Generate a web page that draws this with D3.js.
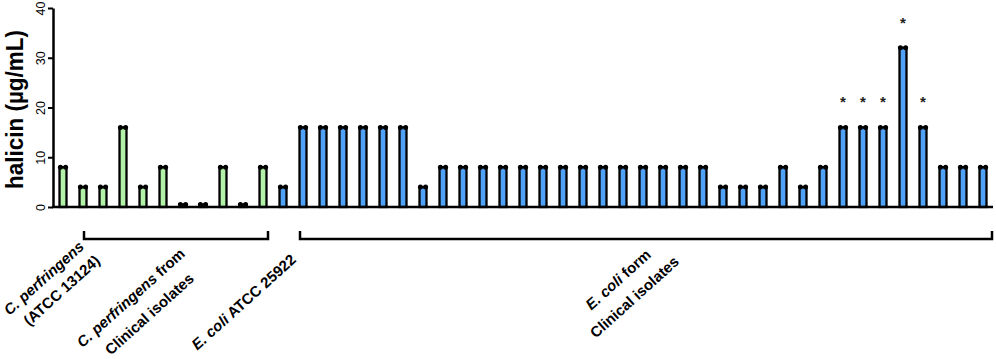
<!DOCTYPE html>
<html>
<head>
<meta charset="utf-8">
<script src="https://cdn.jsdelivr.net/npm/d3@7"></script>
<style>
  body { margin: 0; background: #fff; }
  svg { display: block; font-family: "Liberation Sans", Arial, Helvetica, sans-serif; }
</style>
</head>
<body>
<svg id="chart"></svg>
<script>
// C. perfringens: ATCC 13124 then 10 clinical isolates (MIC, µg/mL)
const cpValues = [8, 4, 4, 16, 4, 8, 0.5, 0.5, 8, 0.5, 8];
// E. coli: ATCC 25922 then 35 clinical isolates
const ecValues = [4, 16, 16, 16, 16, 16, 16, 4,
  8, 8, 8, 8, 8, 8, 8, 8, 8, 8, 8, 8, 8, 8,
  4, 4, 4, 8, 4, 8, 16, 16, 16, 32, 16, 8, 8, 8];
// bars marked with * (index in the full list)
const starred = [39, 40, 41, 42, 43];
const yTicks = [0, 10, 20, 30, 40];

const colors = { cp: '#b2f2a6', ec: '#4fa2f7' };

// bracket spans (bar indices)
const brackets = [
  { from: 1, to: 10 },
  { from: 12, to: 46 }
];

// group labels: each line anchored (text end) near a bar index
const groupLabels = [
  { idx: 1, dx: 2, dy: 41, parts: [{ t: 'C. perfringens', it: true }] },
  { idx: 1, dx: 18, dy: 55, parts: [{ t: '(ATCC 13124)' }] },
  { idx: 6, dx: 3, dy: 48, parts: [{ t: 'C. perfringens', it: true }, { t: ' from' }] },
  { idx: 6, dx: 12, dy: 73, parts: [{ t: 'Clinical isolates' }] },
  { idx: 11, dx: 14, dy: 54, parts: [{ t: 'E. coli', it: true }, { t: ' ATCC 25922' }] },
  { idx: 29, dx: 9, dy: 49, parts: [{ t: 'E. coli', it: true }, { t: ' form' }] },
  { idx: 30, dx: 17, dy: 56, parts: [{ t: 'Clinical isolates' }] }
];

const data = [
  ...cpValues.map(v => ({ value: v, group: 'cp' })),
  ...ecValues.map(v => ({ value: v, group: 'ec' }))
];
data.forEach((d, i) => { d.idx = i; d.star = starred.includes(i); });

const width = 996, height = 359;
const margin = { top: 8, left: 53, right: 3, bottom: 152 };

const svg = d3.select('#chart')
  .attr('width', width)
  .attr('height', height);

const x = d3.scaleBand()
  .domain(data.map(d => d.idx))
  .range([margin.left, width - margin.right]);

const y = d3.scaleLinear()
  .domain([0, 40])
  .range([height - margin.bottom, margin.top]);

const cx = i => x(i) + x.bandwidth() / 2;
const barW = 7;

// bars
svg.append('g')
  .selectAll('rect')
  .data(data)
  .join('rect')
    .attr('x', d => cx(d.idx) - barW / 2)
    .attr('y', d => y(d.value))
    .attr('width', barW)
    .attr('height', d => y(0) - y(d.value))
    .attr('fill', d => colors[d.group])
    .attr('stroke', '#000')
    .attr('stroke-width', 2.3);

// replicate points on top of each bar
svg.append('g')
  .selectAll('g')
  .data(data)
  .join('g')
  .selectAll('circle')
  .data(d => [-2.6, 2.6].map(o => ({ d, o })))
  .join('circle')
    .attr('cx', p => cx(p.d.idx) + p.o)
    .attr('cy', p => y(p.d.value))
    .attr('r', 2.5)
    .attr('fill', '#000');

// significance stars
svg.append('g')
  .selectAll('text')
  .data(data.filter(d => d.star))
  .join('text')
    .attr('x', d => cx(d.idx))
    .attr('y', d => y(d.value) - 20)
    .attr('text-anchor', 'middle')
    .attr('font-size', 15)
    .attr('font-weight', 'bold')
    .attr('fill', '#222')
    .text('*');

// axes
const yAxis = d3.axisLeft(y)
  .tickValues(yTicks)
  .tickSize(5)
  .tickSizeOuter(0);

const yAxisG = svg.append('g')
  .attr('transform', `translate(${margin.left},0)`)
  .call(yAxis);
yAxisG.select('.domain').attr('stroke-width', 2.5);
yAxisG.selectAll('.tick line').attr('stroke-width', 2);
yAxisG.selectAll('.tick text')
  .attr('font-size', 12.5)
  .attr('font-family', '"Liberation Sans", Arial, sans-serif')
  .attr('fill', '#000')
  .attr('text-anchor', 'middle')
  .attr('transform', 'rotate(-90)')
  .attr('x', 0)
  .attr('y', -8)
  .attr('dy', 0);

svg.append('line')
  .attr('x1', margin.left - 1)
  .attr('x2', width - margin.right)
  .attr('y1', y(0))
  .attr('y2', y(0))
  .attr('stroke', '#000')
  .attr('stroke-width', 2.5);

svg.append('text')
  .attr('transform', `translate(23,${(y(0) + y(40)) / 2 + 2}) rotate(-90) scale(1,1.08)`)
  .attr('text-anchor', 'middle')
  .attr('font-size', 22.5)
  .attr('font-weight', 'bold')
  .text('halicin (µg/mL)');

// group brackets
const bTop = y(0) + 24, bBottom = y(0) + 32;
svg.append('g')
  .selectAll('path')
  .data(brackets)
  .join('path')
    .attr('d', b => {
      const x0 = b.from === 1 ? cx(b.from) + 1 : cx(b.from) - 3;
      const x1 = b.to === 46 ? x(b.to) + x.step() - 1 : cx(b.to) + 5;
      return `M${x0},${bTop}V${bBottom}H${x1}V${bTop}`;
    })
    .attr('fill', 'none')
    .attr('stroke', '#000')
    .attr('stroke-width', 2.5);

// rotated group labels
const lbl = svg.append('g')
  .selectAll('text')
  .data(groupLabels)
  .join('text')
    .attr('transform', d => `translate(${cx(d.idx) + d.dx},${y(0) + d.dy}) rotate(-42)`)
    .attr('text-anchor', 'end')
    .attr('font-size', 15)
    .attr('font-weight', 'bold');

lbl.selectAll('tspan')
  .data(d => d.parts)
  .join('tspan')
    .attr('font-style', p => p.it ? 'italic' : 'normal')
    .text(p => p.t);
</script>
</body>
</html>
